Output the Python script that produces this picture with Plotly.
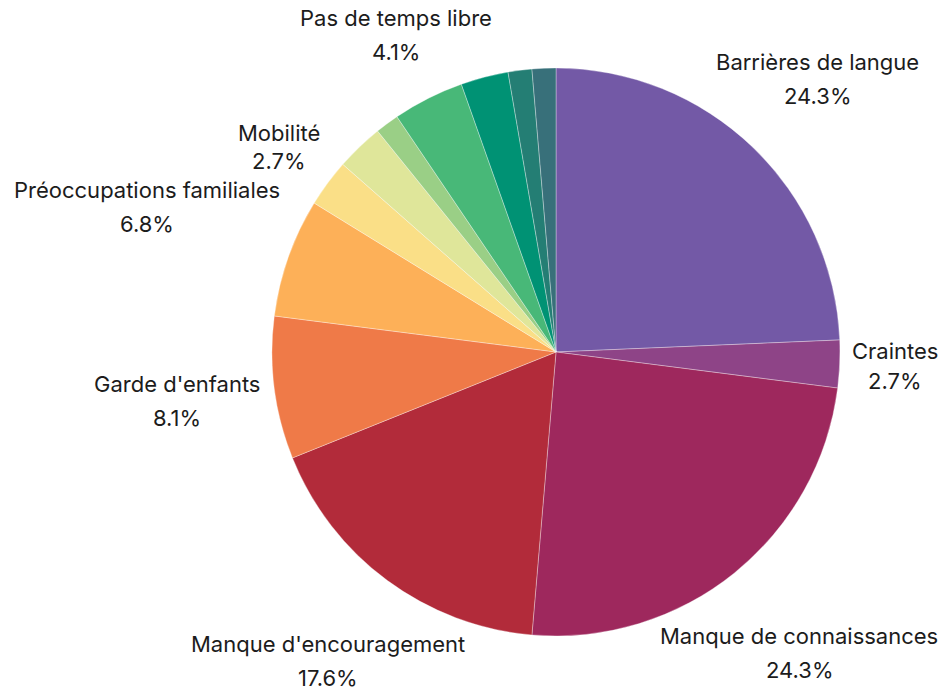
import math
import plotly.graph_objects as go

# Survey responses: barriers to participation (counts, n = 74)
categories = [
    "Barrières de langue",
    "Craintes",
    "Manque de connaissances",
    "Manque d'encouragement",
    "Garde d'enfants",
    "Préoccupations familiales",
    "Mobilité",
    "Santé",
    "Coût",
    "Pas de temps libre",
    "Horaires",
    "Transport",
    "Autres",
]
counts = [18, 2, 18, 13, 6, 5, 2, 2, 1, 3, 2, 1, 1]
show_label = [True, True, True, True, True, True, True, False, False, True, False, False, False]

colors = [
    "#7359A6", "#8E4487", "#9E285D", "#B22B3A", "#EF7A48", "#FDB058",
    "#FADF87", "#DFE69A", "#9ACF86", "#48B878", "#009274", "#247E74", "#38707A",
]

# Layout: pie centre / radius in pixels, and how far out each label sits
W, H = 941, 690
CX, CY, R = 556, 352, 284
label_radius = [1.331, 1.194, 1.363, 1.352, 1.345, 1.528, 1.215, 0, 0, 1.25, 0, 0, 0]
line_gap = [17, 15, 17, 17, 17, 17, 14, 0, 0, 17, 0, 0, 0]
FONT = dict(family="Inter, Roboto, sans-serif", size=22, color="#1c1c1c")

fig = go.Figure(
    go.Pie(
        labels=categories,
        values=counts,
        sort=False,
        direction="clockwise",
        rotation=0,
        marker=dict(colors=colors, line=dict(color="rgba(255,255,255,0.55)", width=0.6)),
        textinfo="none",
        showlegend=False,
        domain=dict(
            x=[(CX - R) / W, (CX + R) / W],
            y=[(H - CY - R) / H, (H - CY + R) / H],
        ),
    )
)

# Outside labels: name and percentage, centred on each slice's mid-angle ray
total = sum(counts)
cum = 0
for name, val, show, lr, gap in zip(categories, counts, show_label, label_radius, line_gap):
    mid = (cum + val / 2) / total * 2 * math.pi
    cum += val
    if not show:
        continue
    px = CX + math.sin(mid) * R * lr
    py = CY - math.cos(mid) * R * lr
    pct = f"{val / total * 100:.1f}%"
    for text, dy in ((name, -gap), (pct, gap)):
        fig.add_annotation(
            x=px / W,
            y=(H - (py + dy)) / H,
            xref="paper",
            yref="paper",
            text=text,
            showarrow=False,
            xanchor="center",
            yanchor="middle",
            font=FONT,
        )

fig.update_layout(
    width=W,
    height=H,
    margin=dict(l=0, r=0, t=0, b=0),
    paper_bgcolor="white",
    plot_bgcolor="white",
)

fig.write_html("out.html")
